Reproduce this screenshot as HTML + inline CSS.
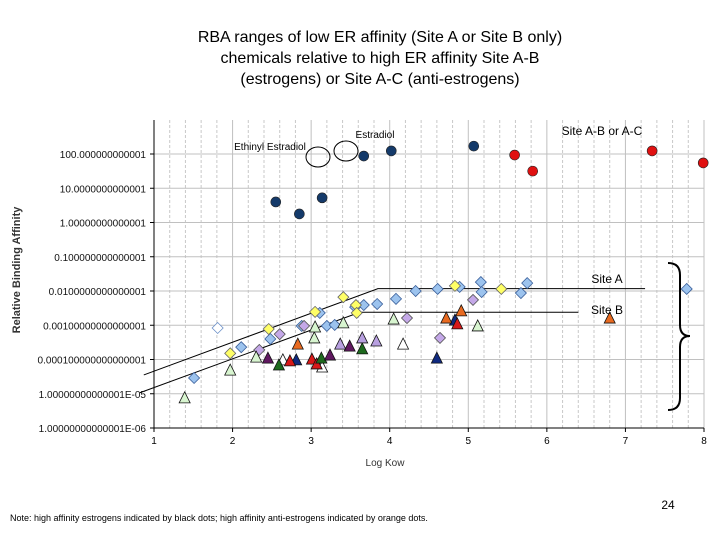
<!DOCTYPE html>
<html><head><meta charset="utf-8"><style>
body{margin:0;background:#fff;}
svg{display:block;font-family:"Liberation Sans",Arial,sans-serif;}
</style></head><body>
<svg id="chart" width="720" height="540" viewBox="0 0 720 540">
<g font-size="16" text-anchor="middle" fill="#000">
<text x="380" y="42">RBA ranges of low ER affinity (Site A or Site B only)</text>
<text x="380" y="63">chemicals relative to high ER affinity Site A-B</text>
<text x="380" y="84">(estrogens) or Site A-C (anti-estrogens)</text>
</g>
<g id="grid"></g>
<g id="guides"></g>
<g id="marks"></g>
<g id="axes"></g>
<text x="20" y="270" font-size="11" font-weight="bold" fill="#333" text-anchor="middle" transform="rotate(-90 20 270)">Relative Binding Affinity</text>
<text x="385" y="466" font-size="10" fill="#333" text-anchor="middle">Log Kow</text>
<text x="602" y="135" font-size="12" text-anchor="middle">Site A-B or A-C</text>
<text x="375" y="138" font-size="10" text-anchor="middle">Estradiol</text>
<text x="270" y="150" font-size="10" text-anchor="middle">Ethinyl Estradiol</text>
<ellipse cx="318" cy="157" rx="12" ry="10" fill="none" stroke="#000"/>
<ellipse cx="346" cy="151" rx="12" ry="10" fill="none" stroke="#000"/>
<text x="607" y="283" font-size="12" text-anchor="middle">Site A</text>
<text x="607" y="314" font-size="12" text-anchor="middle">Site B</text>
<path d="M668,263 Q680,263 680,275 L680,325 Q680,336 690,336 Q680,336 680,347 L680,398 Q680,410 668,410" fill="none" stroke="#000" stroke-width="2"/>
<text x="668" y="509" font-size="12" text-anchor="middle">24</text>
<text x="10" y="521" font-size="9">Note: high affinity estrogens indicated by black dots; high affinity anti-estrogens indicated by orange dots.</text>
</svg>
<script>
const xTicks=[1,2,3,4,5,6,7,8];
const yTickLabels=["100.000000000001","10.0000000000001","1.00000000000001","0.100000000000001","0.0100000000000001","0.00100000000000001","0.000100000000000001","1.00000000000001E-05","1.00000000000001E-06"];
const yTickLogs=[2,1,0,-1,-2,-3,-4,-5,-6];
const navyX=[2.55,2.85,3.14,3.67,4.02,5.07];
const navyLog=[0.60,0.25,0.72,1.94,2.09,2.23];
const redX=[5.59,5.82,7.34,7.99];
const redLog=[1.97,1.50,2.09,1.74];
const blueDX=[1.51,2.11,2.48,2.88,3.11,3.20,3.30,3.56,3.67,3.84,4.08,4.33,4.61,4.89,5.16,5.17,5.67,5.75,7.78];
const blueDLog=[-4.54,-3.64,-3.40,-3.02,-2.64,-3.02,-2.99,-2.47,-2.41,-2.38,-2.23,-2.00,-1.94,-1.88,-1.74,-2.03,-2.06,-1.77,-1.94];
const hollowDX=[1.81];
const hollowDLog=[-3.08];
const yellowX=[1.97,2.46,3.05,3.41,3.57,3.58,4.83,5.42];
const yellowLog=[-3.82,-3.11,-2.61,-2.18,-2.41,-2.64,-1.85,-1.94];
const lilacDX=[2.34,2.60,2.91,4.22,5.06,4.64];
const lilacDLog=[-3.72,-3.26,-3.02,-2.79,-2.26,-3.37];
const paleTX=[1.39,1.97,2.30,3.41,4.05,5.12,3.04,3.05];
const paleTLog=[-5.12,-4.31,-3.93,-2.93,-2.82,-3.02,-3.37,-3.05];
const hollowTX=[2.64,3.14,4.17];
const hollowTLog=[-4.01,-4.22,-3.55];
const navyTX=[2.81,4.60,4.83];
const navyTLog=[-4.01,-3.96,-2.85];
const redTX=[2.73,3.01,3.07,4.86];
const redTLog=[-4.04,-3.99,-4.13,-2.96];
const greenTX=[2.59,3.13,3.65];
const greenTLog=[-4.16,-3.96,-3.69];
const purpleTX=[2.45,3.24,3.49];
const purpleTLog=[-3.96,-3.87,-3.61];
const lilacTX=[3.37,3.65,3.83];
const lilacTLog=[-3.55,-3.37,-3.46];
const orangeTX=[2.83,4.72,4.91,6.80];
const orangeTLog=[-3.55,-2.79,-2.58,-2.79];
const siteAX=[0.87,3.85,7.25];
const siteALog=[-4.45,-1.93,-1.93];
const siteBX=[0.82,3.62,6.4];
const siteBLog=[-4.97,-2.62,-2.62];

const NS="http://www.w3.org/2000/svg";
const X0=154,X1=704,YT=120,YB=428;
function sx(v){return X0+(v-1)*(X1-X0)/7;}
function sy(l){return 154+(2-l)*(428-154)/8;}
function mk(tag,attrs,parent){const e=document.createElementNS(NS,tag);for(const k in attrs)e.setAttribute(k,attrs[k]);parent.appendChild(e);return e;}
const grid=document.getElementById('grid'),axes=document.getElementById('axes'),marks=document.getElementById('marks'),guides=document.getElementById('guides');
for(let i=0;i<35;i++){const v=1+i*0.2;if(Math.abs(v-Math.round(v))<1e-6)continue;
 const l=mk('line',{x1:sx(v),x2:sx(v),y1:YT,y2:YB,stroke:'#c8c8c8','stroke-dasharray':'3,2'},grid);
 }
xTicks.forEach(v=>{const l=mk('line',{x1:sx(v),x2:sx(v),y1:YT,y2:YB,stroke:'#c0c0c0'},grid);
 
 const t=mk('line',{x1:sx(v),x2:sx(v),y1:YB,y2:YB+4,stroke:'#000'},axes);
 
 const tx=mk('text',{x:sx(v),y:YB+16,'font-size':10,'text-anchor':'middle'},axes);tx.textContent=v;
 });
yTickLogs.forEach((l,i)=>{const y=sy(l);
 const g=mk('line',{x1:X0,x2:X1,y1:y,y2:y,stroke:'#c0c0c0'},grid);
 
 const t=mk('line',{x1:X0-4,x2:X0,y1:y,y2:y,stroke:'#000'},axes);
 
 const tx=mk('text',{x:X0-8,y:y+4,'font-size':10,'text-anchor':'end',fill:'#111'},axes);tx.textContent=yTickLabels[i];
 });
const ya=mk('line',{x1:X0,x2:X0,y1:YT,y2:YB,stroke:'#000'},axes);

const xa=mk('line',{x1:X0,x2:X1,y1:YB,y2:YB,stroke:'#000'},axes);

function poly(xs,ls,name){const p=mk('polyline',{points:xs.map((v,i)=>sx(v)+','+sy(ls[i])).join(' '),fill:'none',stroke:'#000','stroke-width':1},guides);
 }
poly(siteAX,siteALog,'site-a-line');poly(siteBX,siteBLog,'site-b-line');
function circles(xs,ls,fill,name){xs.forEach((v,i)=>{const c=mk('circle',{cx:sx(v),cy:sy(ls[i]),r:5,fill:fill,stroke:'#222','stroke-width':0.6},marks);
 });}
function diamonds(xs,ls,fill,stroke,name){xs.forEach((v,i)=>{const x=sx(v),y=sy(ls[i]);
 const d=mk('polygon',{points:`${x},${y-5.5} ${x+5.5},${y} ${x},${y+5.5} ${x-5.5},${y}`,fill:fill,stroke:stroke,'stroke-width':0.8},marks);
 });}
function tris(xs,ls,fill,name){xs.forEach((v,i)=>{const x=sx(v),y=sy(ls[i]);
 const d=mk('polygon',{points:`${x},${y-6} ${x+5.5},${y+5} ${x-5.5},${y+5}`,fill:fill,stroke:'#111','stroke-width':0.8},marks);
 });}
diamonds(hollowDX,hollowDLog,'#fff','#6a8fc8','hollow-diamond');
diamonds(blueDX,blueDLog,'#9cc3ee','#3a5f9a','blue-diamond');
diamonds(yellowX,yellowLog,'#ffff66','#666','yellow-diamond');
diamonds(lilacDX,lilacDLog,'#c4a8e8','#555','lilac-diamond');
tris(paleTX,paleTLog,'#d8f5d0','pale-green-triangle');
tris(hollowTX,hollowTLog,'#fff','hollow-triangle');
tris(navyTX,navyTLog,'#102a80','navy-triangle');
tris(redTX,redTLog,'#d81818','red-triangle');
tris(greenTX,greenTLog,'#1e6a1e','green-triangle');
tris(purpleTX,purpleTLog,'#601860','purple-triangle');
tris(lilacTX,lilacTLog,'#b8a0e0','lilac-triangle');
tris(orangeTX,orangeTLog,'#e86a20','orange-triangle');
circles(navyX,navyLog,'#143a6a','estrogen-dot');
circles(redX,redLog,'#e01010','anti-estrogen-dot');
</script>
</body></html>
